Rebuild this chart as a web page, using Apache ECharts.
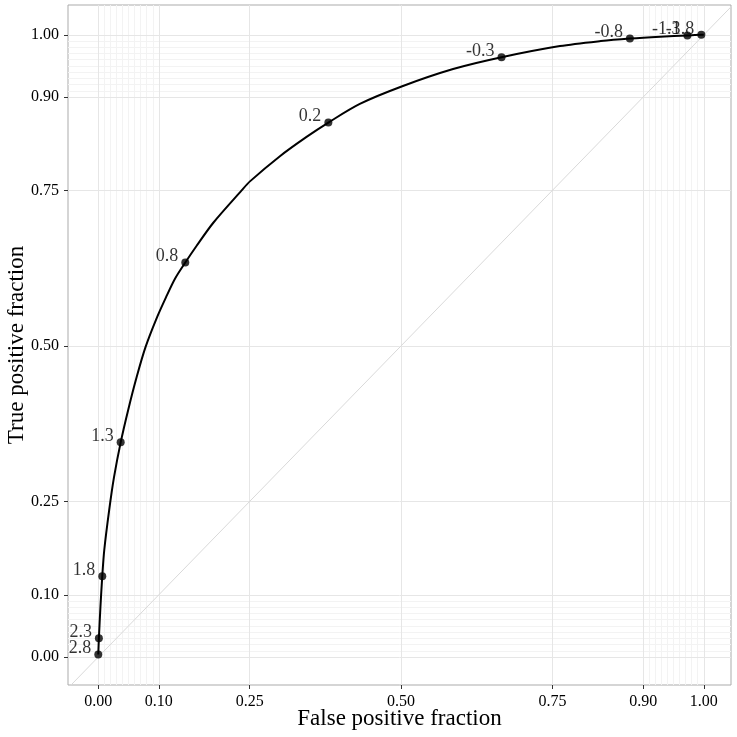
<!DOCTYPE html>
<html>
<head>
<meta charset="utf-8">
<script src="https://cdn.jsdelivr.net/npm/echarts@6/dist/echarts.min.js"></script>
<style>
  html, body { margin: 0; padding: 0; background: #fff; }
  #chart { width: 737px; height: 737px; }
</style>
</head>
<body>
<div id="chart"></div>
<script>
// ROC curve: [false positive fraction, true positive fraction]
const rocCurve = [
  [0, 0.004], [0.001, 0.03], [0.0036, 0.081], [0.0066, 0.13], [0.0099, 0.172],
  [0.018, 0.236], [0.026, 0.289], [0.037, 0.345], [0.0496, 0.398], [0.0634, 0.45],
  [0.078, 0.498], [0.0953, 0.542], [0.1118, 0.578], [0.1267, 0.608], [0.1437, 0.634],
  [0.1625, 0.661], [0.19, 0.698], [0.2368, 0.75], [0.2505, 0.7645], [0.30, 0.805],
  [0.344, 0.836], [0.38, 0.859], [0.432, 0.889], [0.501, 0.917], [0.586, 0.945],
  [0.666, 0.964], [0.7625, 0.982], [0.83, 0.99], [0.878, 0.994], [0.928, 0.997],
  [0.973, 0.999], [0.996, 1.0], [1, 1]
]
// labelled cutoff points
const cutoffs = ['2.8', '2.3', '1.8', '1.3', '0.8', '0.2', '-0.3', '-0.8', '-1.3', '-1.8']
const cutoffFpf = [0, 0.001, 0.0066, 0.037, 0.1437, 0.38, 0.666, 0.878, 0.973, 0.996]
const cutoffTpf = [0.004, 0.03, 0.13, 0.345, 0.634, 0.859, 0.964, 0.994, 0.999, 1.0]

// axis breaks
const majorBreaks = [0, 0.1, 0.25, 0.5, 0.75, 0.9, 1]
const minorBreaks = [0.01, 0.02, 0.03, 0.04, 0.05, 0.06, 0.07, 0.08, 0.09,
  0.91, 0.92, 0.93, 0.94, 0.95, 0.96, 0.97, 0.98, 0.99]
const diagonal = [[-0.05, -0.05], [1.05, 1.05]]

const serif = '"Liberation Serif", "Times New Roman", serif'

const gridLines = (vals, color) => vals.flatMap(v => [
  { xAxis: v, lineStyle: { color: color, width: 1, type: 'solid' } },
  { yAxis: v, lineStyle: { color: color, width: 1, type: 'solid' } }
])

const chart = echarts.init(document.getElementById('chart'), null, { renderer: 'canvas' })

const axisCommon = {
  type: 'value',
  nameLocation: 'middle',
  nameMoveOverlap: false,
  nameTextStyle: { fontFamily: serif, fontSize: 23, color: '#000' },
  axisLine: { show: false, onZero: false },
  axisTick: { show: true, length: 4, customValues: majorBreaks, lineStyle: { color: '#333' } },
  axisLabel: {
    customValues: majorBreaks,
    formatter: v => v.toFixed(2),
    fontFamily: serif, fontSize: 16, color: '#000', margin: 9
  },
  splitLine: { show: false }
}

const option = {
  animation: false,
  backgroundColor: '#fff',
  grid: {
    left: 68, top: 5, width: 663, height: 680,
    outerBoundsMode: 'none',
    containLabel: false,
    show: true, borderColor: '#ababab', borderWidth: 1,
    backgroundColor: 'transparent'
  },
  xAxis: Object.assign({}, axisCommon, {
    min: -0.05, max: 1.045,
    name: 'False positive fraction',
    nameGap: 22
  }),
  yAxis: Object.assign({}, axisCommon, {
    min: -0.045, max: 1.048,
    name: 'True positive fraction',
    nameGap: 40
  }),
  series: [
    {
      // panel grid lines
      type: 'line',
      data: [],
      z: 1,
      silent: true,
      markLine: {
        z: 1,
        silent: true,
        symbol: 'none',
        label: { show: false },
        animation: false,
        data: gridLines(minorBreaks, '#f3f3f3').concat(gridLines(majorBreaks, '#e6e6e6'))
      }
    },
    {
      // chance line
      type: 'line',
      data: diagonal,
      z: 2,
      symbol: 'none',
      silent: true,
      clip: true,
      lineStyle: { color: '#d9d9d9', width: 1 }
    },
    {
      type: 'line',
      data: rocCurve,
      z: 3,
      symbol: 'none',
      smooth: 0.3,
      lineStyle: { color: '#000', width: 2 }
    },
    {
      type: 'scatter',
      z: 4,
      data: cutoffs.map((c, i) => ({ value: [cutoffFpf[i], cutoffTpf[i]], name: c })),
      symbolSize: 8,
      itemStyle: { color: '#000' },
      label: {
        show: true,
        position: [-3, -2],
        align: 'right',
        verticalAlign: 'middle',
        formatter: p => p.name,
        fontFamily: serif,
        fontSize: 18,
        color: '#000'
      }
    }
  ]
}

chart.setOption(option)
</script>
</body>
</html>
